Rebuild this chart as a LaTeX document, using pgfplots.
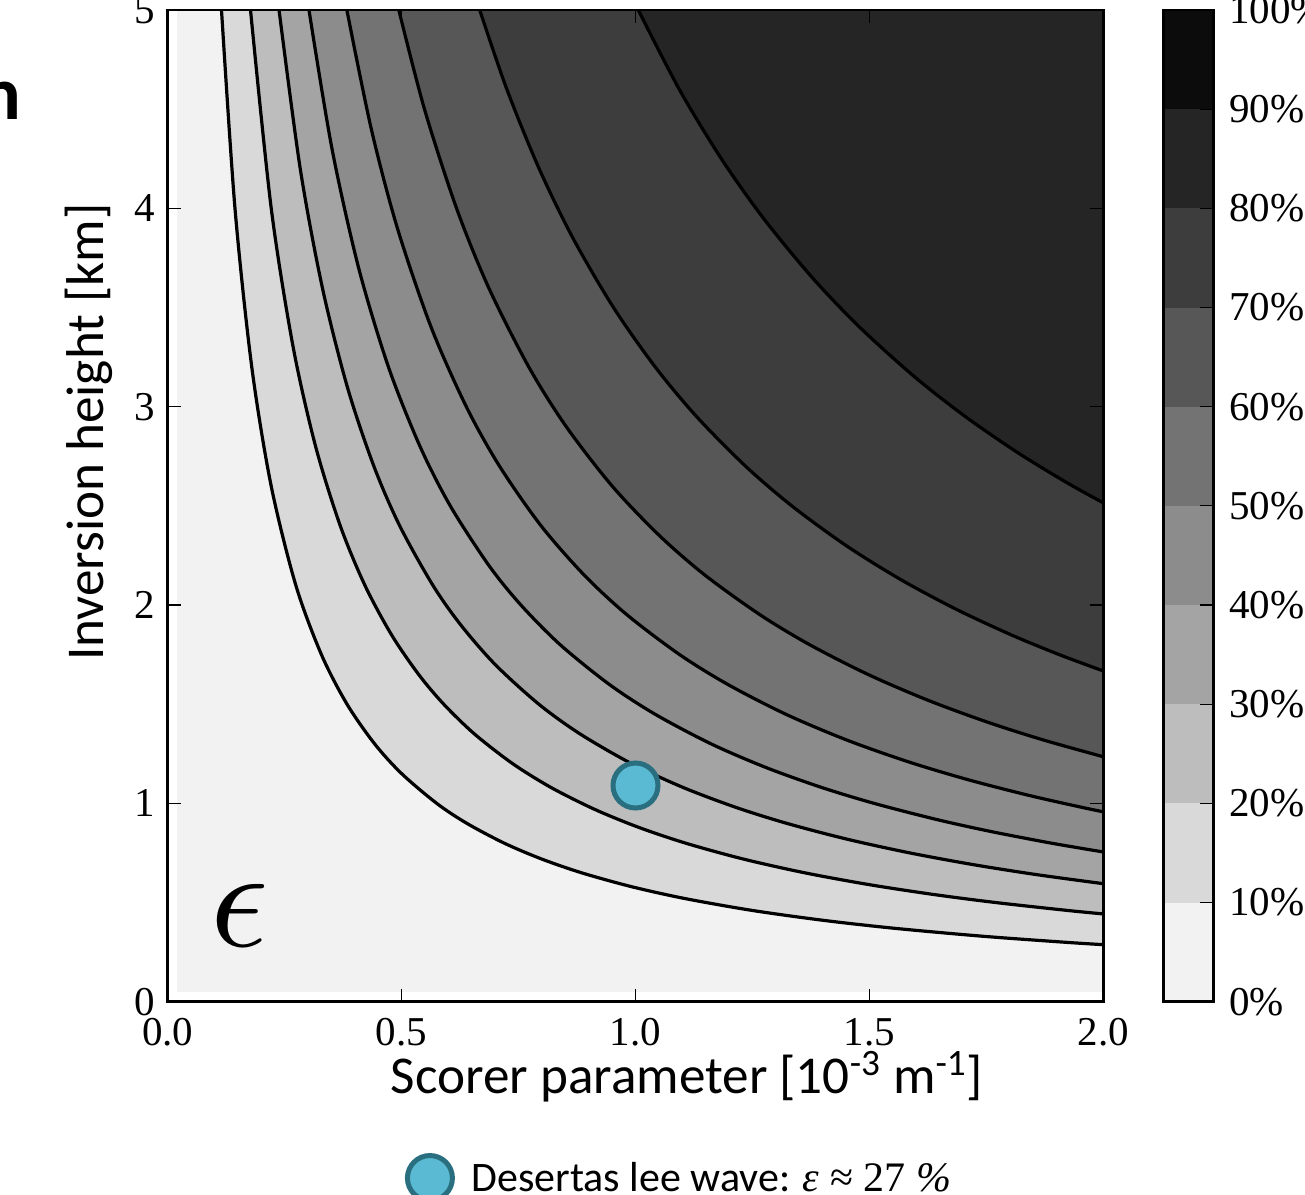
\documentclass[border=0pt]{standalone}
\usepackage{pgfplots}
\usepackage{pgfplotstable}
\pgfplotsset{compat=1.18}
\usepackage{fontspec}
\setmainfont{Carlito}
\newfontfamily\tms{Liberation Serif}

\definecolor{g0}{HTML}{F2F2F2}
\definecolor{g1}{HTML}{D9D9D9}
\definecolor{g2}{HTML}{BDBDBD}
\definecolor{g3}{HTML}{A4A4A4}
\definecolor{g4}{HTML}{8C8C8C}
\definecolor{g5}{HTML}{737373}
\definecolor{g6}{HTML}{575757}
\definecolor{g7}{HTML}{3D3D3D}
\definecolor{g8}{HTML}{252525}
\definecolor{g9}{HTML}{0C0C0C}
\definecolor{dotfill}{HTML}{5BBAD3}
\definecolor{dotedge}{HTML}{2A6F80}

% contour lines, epsilon = 10% ... 80%
\pgfplotstableread{
x y
0.115 5
0.1438 4
0.1797 3.2
0.2212 2.6
0.2738 2.1
0.3286 1.75
0.3833 1.5
0.4423 1.3
0.5 1.15
0.575 1.0
0.6389 0.9
0.7188 0.8
0.7986 0.72
0.8846 0.65
0.9914 0.58
1.1058 0.52
1.25 0.46
1.4024 0.41
1.5541 0.37
1.7424 0.33
1.9167 0.3
2 0.2875
}\lA
\pgfplotstableread{
x y
0.177 5
0.2213 4
0.2682 3.3
0.3161 2.8
0.3688 2.4
0.4214 2.1
0.4784 1.85
0.5364 1.65
0.59 1.5
0.6556 1.35
0.7375 1.2
0.8194 1.08
0.9124 0.97
1.0057 0.88
1.1063 0.8
1.2292 0.72
1.3615 0.65
1.5 0.59
1.6389 0.54
1.77 0.5
1.9239 0.46
2 0.4425
}\lB
\pgfplotstableread{
x y
0.238 5
0.2833 4.2
0.3306 3.6
0.3839 3.1
0.4407 2.7
0.4958 2.4
0.5667 2.1
0.6263 1.9
0.7 1.7
0.7933 1.5
0.8815 1.35
0.9917 1.2
1.1019 1.08
1.2143 0.98
1.3222 0.9
1.4512 0.82
1.5867 0.75
1.7246 0.69
1.8594 0.64
2 0.595
}\lC
\pgfplotstableread{
x y
0.302 5
0.3512 4.3
0.4081 3.7
0.4719 3.2
0.5393 2.8
0.604 2.5
0.6864 2.2
0.755 2.0
0.8389 1.8
0.9438 1.6
1.0414 1.45
1.1615 1.3
1.2797 1.18
1.3981 1.08
1.51 1.0
1.6413 0.92
1.7558 0.86
1.8875 0.8
2 0.755
}\lD
\pgfplotstableread{
x y
0.383 5
0.4352 4.4
0.491 3.9
0.5632 3.4
0.6383 3.0
0.7093 2.7
0.7979 2.4
0.8907 2.15
0.9821 1.95
1.0943 1.75
1.1969 1.6
1.3207 1.45
1.4508 1.32
1.5826 1.21
1.7098 1.12
1.8413 1.04
1.9541 0.98
2 0.9575
}\lE
\pgfplotstableread{
x y
0.494 5
0.5489 4.5
0.6175 4.0
0.6861 3.6
0.7719 3.2
0.8517 2.9
0.95 2.6
1.0511 2.35
1.1488 2.15
1.2667 1.95
1.3722 1.8
1.497 1.65
1.625 1.52
1.7518 1.41
1.8712 1.32
2 1.235
}\lF
\pgfplotstableread{
x y
0.667 5
0.725 4.6
0.794 4.2
0.8662 3.85
0.9529 3.5
1.0422 3.2
1.1305 2.95
1.2352 2.7
1.334 2.5
1.45 2.3
1.5657 2.13
1.6843 1.98
1.8027 1.85
1.9057 1.75
2 1.6675
}\lG
\pgfplotstableread{
x y
1.006 5
1.0935 4.6
1.1835 4.25
1.2734 3.95
1.3781 3.65
1.4794 3.4
1.5968 3.15
1.7051 2.95
1.8159 2.77
1.9198 2.62
2 2.515
}\lH

\begin{document}
\begin{tikzpicture}
\begin{axis}[
  at={(0pt,0pt)}, anchor=south west, scale only axis,
  width=467.8pt, height=495.85pt,
  xmin=0, xmax=2, ymin=0, ymax=5,
  axis on top,
  axis line style={line width=1.3pt},
  tick align=inside, tick pos=both,
  major tick length=6.5pt,
  tick style={line width=0.6pt, black},
  xtick={0,0.5,1,1.5,2}, xticklabels={0.0,0.5,1.0,1.5,2.0},
  ytick={0,1,2,3,4,5}, yticklabels={0,1,2,3,4,5},
  ticklabel style={font=\tms\fontsize{20.5}{20.5}\selectfont, inner sep=0pt},
  xticklabel style={anchor=north, yshift=-8pt},
  yticklabel style={anchor=east, xshift=-6pt},
  xlabel={Scorer parameter [10\textsuperscript{-3} m\textsuperscript{-1}]},
  xlabel style={at={(axis description cs:0.555,-0.093)}, anchor=base, inner sep=0pt, font=\fontsize{26.6}{26.6}\selectfont},
  ylabel={Inversion height [km]},
  ylabel style={at={(axis description cs:-0.0681,0.5745)}, anchor=base, inner sep=0pt, font=\fontsize{26.6}{26.6}\selectfont},
  legend style={at={(axis description cs:0.2558,-0.1778)}, anchor=west, draw=none, fill=none, inner sep=0pt,
    column sep=7.5pt, font=\fontsize{21}{21}\selectfont, cells={anchor=west}},
  legend image code/.code={\draw[mark repeat=2,mark phase=2,#1] plot coordinates {(0pt,0pt)(12.5pt,0pt)(25pt,0pt)};},
]
\addplot[fill=g0, draw=none, forget plot] coordinates {(0.02,0.05) (2,0.05) (2,5) (0.02,5)};
\addplot[fill=g1, draw=none, forget plot] table {\lA} -- (rel axis cs:1,1) -- cycle;
\addplot[fill=g2, draw=none, forget plot] table {\lB} -- (rel axis cs:1,1) -- cycle;
\addplot[fill=g3, draw=none, forget plot] table {\lC} -- (rel axis cs:1,1) -- cycle;
\addplot[fill=g4, draw=none, forget plot] table {\lD} -- (rel axis cs:1,1) -- cycle;
\addplot[fill=g5, draw=none, forget plot] table {\lE} -- (rel axis cs:1,1) -- cycle;
\addplot[fill=g6, draw=none, forget plot] table {\lF} -- (rel axis cs:1,1) -- cycle;
\addplot[fill=g7, draw=none, forget plot] table {\lG} -- (rel axis cs:1,1) -- cycle;
\addplot[fill=g8, draw=none, forget plot] table {\lH} -- (rel axis cs:1,1) -- cycle;
\addplot[black, line width=1.6pt, smooth, forget plot] table {\lA};
\addplot[black, line width=1.6pt, smooth, forget plot] table {\lB};
\addplot[black, line width=1.6pt, smooth, forget plot] table {\lC};
\addplot[black, line width=1.6pt, smooth, forget plot] table {\lD};
\addplot[black, line width=1.6pt, smooth, forget plot] table {\lE};
\addplot[black, line width=1.6pt, smooth, forget plot] table {\lF};
\addplot[black, line width=1.6pt, smooth, forget plot] table {\lG};
\addplot[black, line width=1.6pt, smooth, forget plot] table {\lH};
\addplot[only marks, mark=*, mark size=11.25pt, mark options={fill=dotfill, draw=dotedge, line width=2.5pt}] coordinates {(1.0,1.09)};
\addlegendentry{Desertas lee wave: {\tms\textit{ε} ≈ 27 \textit{\%}}}
\node[scale=7.2] at (axis cs:0.1539,0.4326) {$\epsilon$};
\end{axis}

\begin{axis}[
  at={(497.8pt,0pt)}, anchor=south west, scale only axis,
  width=25pt, height=495.85pt,
  xmin=0, xmax=1, ymin=0, ymax=100,
  axis on top,
  axis line style={line width=1.3pt},
  xtick=\empty,
  ytick={0,10,20,30,40,50,60,70,80,90,100},
  yticklabels={0\%,10\%,20\%,30\%,40\%,50\%,60\%,70\%,80\%,90\%,100\%},
  ytick pos=right, yticklabel pos=right,
  tick align=inside, major tick length=6.5pt,
  tick style={line width=0.6pt, black},
  yticklabel style={anchor=west, xshift=7.8pt, inner sep=0pt, font=\tms\fontsize{20.5}{20.5}\selectfont},
]
\addplot[fill=g0, draw=none] coordinates {(0,0) (1,0) (1,10) (0,10)};
\addplot[fill=g1, draw=none] coordinates {(0,10) (1,10) (1,20) (0,20)};
\addplot[fill=g2, draw=none] coordinates {(0,20) (1,20) (1,30) (0,30)};
\addplot[fill=g3, draw=none] coordinates {(0,30) (1,30) (1,40) (0,40)};
\addplot[fill=g4, draw=none] coordinates {(0,40) (1,40) (1,50) (0,50)};
\addplot[fill=g5, draw=none] coordinates {(0,50) (1,50) (1,60) (0,60)};
\addplot[fill=g6, draw=none] coordinates {(0,60) (1,60) (1,70) (0,70)};
\addplot[fill=g7, draw=none] coordinates {(0,70) (1,70) (1,80) (0,80)};
\addplot[fill=g8, draw=none] coordinates {(0,80) (1,80) (1,90) (0,90)};
\addplot[fill=g9, draw=none] coordinates {(0,90) (1,90) (1,100) (0,100)};
\end{axis}

\node[anchor=base east, inner sep=0pt, font=\bfseries\fontsize{38}{38}\selectfont] at (-73pt,441pt) {n};

\pgfresetboundingbox
\path[use as bounding box] (-83.85pt,-96.15pt) rectangle (568.65pt,500.85pt);
\end{tikzpicture}
\end{document}
